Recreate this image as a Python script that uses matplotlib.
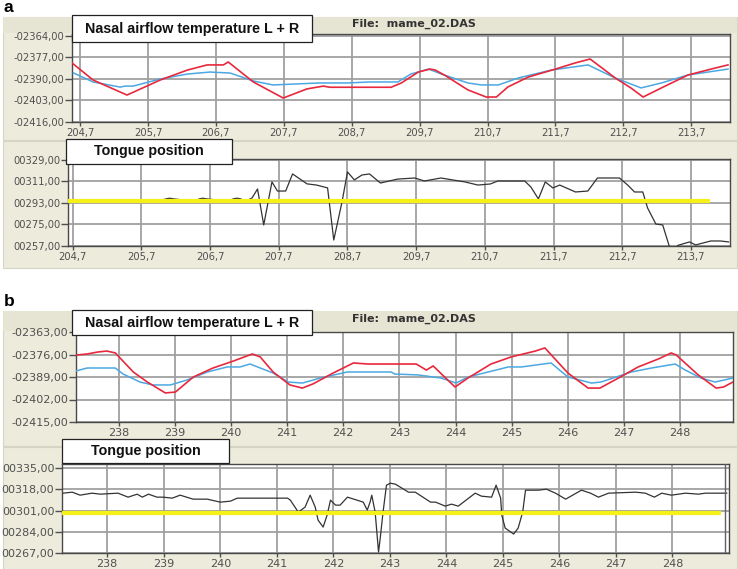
import matplotlib
matplotlib.use('Agg')
import matplotlib.pyplot as plt
from matplotlib.patches import Rectangle

W, H = 738, 569

# ---------------- data ----------------
# Panel a, nasal airflow (L = red, R = blue)
a_red_x = [204.58, 204.89, 205.39, 205.88, 206.28, 206.57, 206.81, 206.88, 207.25, 207.69, 208.04, 208.28,
           208.38, 208.97, 209.28, 209.43, 209.68, 209.85, 209.93, 210.08, 210.41, 210.68, 210.83, 211.00,
           211.30, 211.70, 211.99, 212.21, 212.58, 212.81, 212.99, 213.26, 213.65, 214.05, 214.24]
a_red_y = [-2380.3, -2390.6, -2399.7, -2390.6, -2384.6, -2381.5, -2381.5, -2379.7, -2391.8, -2401.5, -2396.0,
           -2394.3, -2395.0, -2395.0, -2395.0, -2392.4, -2385.8, -2384.0, -2384.6, -2388.0, -2396.6, -2400.9,
           -2400.9, -2394.8, -2388.8, -2384.0, -2380.3, -2377.9, -2389.4, -2395.4, -2400.9, -2395.4, -2387.6,
           -2383.4, -2381.5]
a_blue_x = [204.60, 204.89, 205.29, 205.36, 205.48, 205.88, 206.28, 206.61, 206.91, 207.25, 207.54, 208.23,
            208.63, 208.97, 209.38, 209.57, 209.83, 210.02, 210.41, 210.61, 210.86, 211.15, 211.64, 212.18,
            212.58, 212.96, 213.26, 213.65, 214.24]
a_blue_y = [-2386.3, -2391.8, -2394.9, -2394.3, -2394.3, -2390.0, -2387.0, -2385.8, -2386.4, -2391.2, -2393.6,
            -2392.4, -2392.4, -2391.8, -2391.8, -2387.0, -2384.0, -2387.0, -2392.4, -2393.6, -2393.6, -2389.4,
            -2384.6, -2381.5, -2389.4, -2395.4, -2392.4, -2387.6, -2384.0]
# Panel a, tongue position
a_tong_x = [204.63, 205.95, 206.06, 206.11, 206.16, 206.45, 206.55, 206.59, 206.64, 206.95, 207.04, 207.09,
            207.14, 207.22, 207.31, 207.39, 207.48, 207.60, 207.68, 207.80, 207.90, 208.11, 208.25, 208.41,
            208.50, 208.62, 208.70, 208.80, 208.91, 209.02, 209.18, 209.43, 209.68, 209.82, 210.06, 210.41,
            210.60, 210.78, 210.89, 211.28, 211.37, 211.48, 211.58, 211.69, 211.79, 212.02, 212.20, 212.34,
            212.66, 212.78, 212.88, 213.00, 213.07, 213.19, 213.29, 213.39, 213.45, 213.51, 213.68, 213.77,
            213.99, 214.13, 214.25]
a_tong_y = [294.5, 294.5, 296.5, 297.0, 296.5, 294.5, 296.5, 297.0, 296.5, 294.5, 296.5, 297.0,
            296.5, 294.5, 297.2, 304.7, 274.6, 310.6, 303.0, 303.0, 317.3, 309.0, 308.0, 305.6,
            262.0, 293.8, 319.0, 312.3, 316.4, 317.3, 309.7, 313.0, 313.9, 311.4, 313.9, 310.6,
            308.0, 308.9, 311.4, 311.4, 306.4, 296.4, 310.6, 305.6, 308.0, 302.2, 303.0, 313.9,
            313.9, 308.0, 302.2, 302.2, 288.8, 275.4, 274.6, 256.0, 252.0, 257.5, 260.4, 257.9,
            261.2, 261.2, 260.4]
a_thresh = 294.5
a_xticks = [204.7, 205.7, 206.7, 207.7, 208.7, 209.7, 210.7, 211.7, 212.7, 213.7]
a_xlabels = ['204,7', '205,7', '206,7', '207,7', '208,7', '209,7', '210,7', '211,7', '212,7', '213,7']
a_top_yticks = [-2416, -2403, -2390, -2377, -2364]
a_top_ylabels = ['-02416,00', '-02403,00', '-02390,00', '-02377,00', '-02364,00']
a_bot_yticks = [257, 275, 293, 311, 329]
a_bot_ylabels = ['00257,00', '00275,00', '00293,00', '00311,00', '00329,00']

# Panel b, nasal airflow
b_red_x = [237.24, 237.44, 237.62, 237.79, 237.94, 238.26, 238.51, 238.83, 239.01, 239.33, 239.68, 240.04,
           240.38, 240.52, 240.75, 241.05, 241.27, 241.46, 241.82, 242.18, 242.44, 243.30, 243.48, 243.60,
           243.99, 244.22, 244.63, 244.99, 245.42, 245.59, 246.00, 246.36, 246.57, 246.90, 247.25, 247.61,
           247.84, 247.93, 248.32, 248.64, 248.77, 248.94]
b_red_y = [-2376.3, -2375.7, -2374.6, -2374.0, -2375.1, -2386.1, -2391.9, -2398.2, -2397.7, -2389.0, -2383.8,
           -2379.8, -2375.7, -2377.4, -2386.1, -2393.6, -2395.4, -2393.0, -2386.7, -2380.9, -2381.5, -2381.5,
           -2385.0, -2382.6, -2394.8, -2389.6, -2381.5, -2377.4, -2374.0, -2372.2, -2386.7, -2395.4, -2395.4,
           -2389.6, -2383.2, -2378.6, -2375.1, -2376.3, -2387.8, -2395.4, -2394.8, -2391.9]
b_blue_x = [237.24, 237.44, 237.94, 238.08, 238.38, 238.61, 238.92, 239.22, 239.58, 239.93, 240.16, 240.34,
            240.75, 241.02, 241.27, 241.59, 242.07, 242.85, 242.92, 243.33, 243.74, 244.01, 244.22, 244.58,
            244.94, 245.17, 245.70, 246.00, 246.42, 246.59, 247.13, 247.49, 247.91, 248.09, 248.37, 248.62,
            248.94]
b_blue_y = [-2385.5, -2383.8, -2383.8, -2387.3, -2391.9, -2393.6, -2393.6, -2390.7, -2386.1, -2383.2, -2383.2,
            -2381.5, -2386.7, -2391.9, -2392.5, -2389.6, -2386.1, -2386.1, -2387.3, -2387.8, -2389.6, -2392.5,
            -2389.0, -2386.1, -2383.2, -2383.2, -2380.9, -2389.0, -2392.5, -2391.9, -2386.1, -2383.8, -2381.5,
            -2385.0, -2389.6, -2391.9, -2389.6]
# Panel b, tongue position
b_tong_x = [237.22, 237.38, 237.52, 237.73, 237.88, 238.19, 238.37, 238.53, 238.62, 238.73, 238.88, 238.99,
            239.15, 239.29, 239.52, 239.77, 240.00, 240.18, 240.30, 240.71, 241.19, 241.24, 241.38, 241.50,
            241.59, 241.68, 241.73, 241.82, 241.89, 241.95, 242.04, 242.12, 242.25, 242.53, 242.60, 242.65,
            242.68, 242.74, 242.80, 242.83, 242.88, 242.94, 243.01, 243.10, 243.33, 243.45, 243.72, 243.81,
            243.98, 244.09, 244.21, 244.51, 244.62, 244.80, 244.88, 244.96, 244.98, 245.04, 245.19, 245.27,
            245.35, 245.40, 245.63, 245.77, 245.93, 246.11, 246.39, 246.55, 246.69, 246.87, 247.35, 247.52,
            247.68, 247.81, 247.98, 248.23, 248.46, 248.58, 248.96]
b_tong_y = [315.0, 315.8, 313.4, 315.0, 314.2, 315.0, 311.8, 314.2, 311.8, 314.2, 311.8, 311.8,
            311.0, 313.4, 310.2, 310.2, 307.8, 308.6, 311.0, 311.0, 311.0, 309.4, 299.8, 303.8,
            313.4, 303.8, 293.4, 287.8, 297.4, 309.4, 305.4, 305.4, 311.8, 307.8, 301.4, 307.8,
            313.4, 299.8, 267.8, 279.0, 299.8, 321.4, 323.0, 322.2, 315.8, 315.8, 307.8, 307.8,
            304.6, 306.2, 304.6, 315.0, 312.6, 311.8, 321.4, 311.0, 297.4, 287.0, 282.2, 287.0,
            299.8, 317.4, 317.4, 318.2, 315.0, 310.2, 317.4, 315.0, 311.8, 315.0, 315.8, 315.0,
            311.8, 315.0, 313.4, 315.0, 314.2, 315.0, 315.0]
b_thresh = 298.8
b_xticks = [238, 239, 240, 241, 242, 243, 244, 245, 246, 247, 248]
b_xlabels = ['238', '239', '240', '241', '242', '243', '244', '245', '246', '247', '248']
b_top_yticks = [-2415, -2402, -2389, -2376, -2363]
b_top_ylabels = ['-02415,00', '-02402,00', '-02389,00', '-02376,00', '-02363,00']
b_bot_yticks = [267, 284, 301, 318, 335]
b_bot_ylabels = ['00267,00', '00284,00', '00301,00', '00318,00', '00335,00']

# ---------------- figure ----------------
fig = plt.figure(figsize=(W / 100, H / 100), dpi=100)
fig.patch.set_facecolor('white')

BEIGE = '#EDEBDC'
HEAD = '#E6E4D2'
RED = '#E8283C'
BLUE = '#4BA8E2'
YEL = '#F4F018'


def frect(x0, y0, x1, y1, **kw):
    r = Rectangle((x0 / W, 1 - y1 / H), (x1 - x0) / W, (y1 - y0) / H,
                  transform=fig.transFigure, **kw)
    fig.add_artist(r)
    return r


def add_ax(l, t, r, b):
    return fig.add_axes([l / W, 1 - b / H, (r - l) / W, (b - t) / H])


def style(ax, xlim, ylim, xt, xl, yt, yl, fs):
    ax.set_facecolor('white')
    ax.set_xlim(*xlim)
    ax.set_ylim(*ylim)
    ax.set_xticks(xt)
    ax.set_xticklabels(xl)
    ax.set_yticks(yt)
    ax.set_yticklabels(yl)
    ax.grid(True, color='#a0a0a0', lw=1.3, zorder=0)
    ax.set_axisbelow(True)
    for s in ax.spines.values():
        s.set_color('#484848')
        s.set_linewidth(1.0)
    ax.tick_params(axis='y', direction='out', length=5, width=1, color='#505050',
                   labelsize=fs, labelcolor='#505050', pad=0.5)
    ax.tick_params(axis='x', direction='out', length=3, width=1, color='#505050',
                   labelsize=fs, labelcolor='#505050', pad=1)


def title_box(x0, y0, x1, y1, text):
    frect(x0, y0, x1, y1, facecolor='white', edgecolor='#222222', lw=0.9, zorder=5)
    fig.text((x0 + x1) / 2 / W, 1 - (y0 + y1) / 2 / H, text, ha='center', va='center',
             fontsize=10.3, fontweight='bold', family='Liberation Sans', color='#111111', zorder=6)


# background frames
frect(3, 17, 737, 140, facecolor=BEIGE, edgecolor='#d6d4c2', lw=0.8, zorder=-2)
frect(3, 17, 737, 33, facecolor=HEAD, edgecolor='none', zorder=-1)
frect(3, 141, 737, 268, facecolor=BEIGE, edgecolor='#d6d4c2', lw=0.8, zorder=-2)
frect(3, 311, 737, 446, facecolor=BEIGE, edgecolor='#d6d4c2', lw=0.8, zorder=-2)
frect(3, 311, 737, 331, facecolor=HEAD, edgecolor='none', zorder=-1)
frect(3, 447, 737, 569, facecolor=BEIGE, edgecolor='#d6d4c2', lw=0.8, zorder=-2)

# panel a top
ax1 = add_ax(72, 34, 730, 122)
style(ax1, (204.58, 214.27), (-2416, -2362.8), a_xticks, a_xlabels, a_top_yticks, a_top_ylabels, 7.2)
ax1.plot(a_blue_x, a_blue_y, color=BLUE, lw=1.1, zorder=3)
ax1.plot(a_red_x, a_red_y, color=RED, lw=1.2, zorder=4)

# panel a bottom
ax2 = add_ax(68, 159, 730, 246)
style(ax2, (204.63, 214.27), (257, 329.8), a_xticks, a_xlabels, a_bot_yticks, a_bot_ylabels, 7.2)
ax2.plot(a_tong_x, a_tong_y, color='#333333', lw=0.9, zorder=3)
ax2.plot([204.63, 213.98], [a_thresh, a_thresh], color=YEL, lw=3.0, zorder=4, solid_capstyle='butt')

# panel b top
ax3 = add_ax(76, 332, 733, 422)
style(ax3, (237.24, 248.94), (-2415, -2363), b_xticks, b_xlabels, b_top_yticks, b_top_ylabels, 8)
ax3.plot(b_blue_x, b_blue_y, color=BLUE, lw=1.1, zorder=3)
ax3.plot(b_red_x, b_red_y, color=RED, lw=1.2, zorder=4)

# panel b bottom
ax4 = add_ax(62, 464, 729, 553)
style(ax4, (237.2, 249.0), (267, 338.4), b_xticks, b_xlabels, b_bot_yticks, b_bot_ylabels, 8)
ax4.plot(b_tong_x, b_tong_y, color='#333333', lw=0.9, zorder=3)
ax4.plot([237.2, 248.85], [b_thresh, b_thresh], color=YEL, lw=3.0, zorder=4, solid_capstyle='butt')
ax4.axvline(248.93, color='#606060', lw=1.0, zorder=5)

# title boxes
title_box(72, 15, 312, 42, 'Nasal airflow temperature L + R')
title_box(66, 139, 232, 164, 'Tongue position')
title_box(72, 310, 312, 335, 'Nasal airflow temperature L + R')
title_box(62, 439, 229, 463, 'Tongue position')

# file labels
fig.text(352 / W, 1 - 24 / H, 'File:  mame_02.DAS', fontsize=8, fontweight='bold',
         color='#333333', va='center', ha='left')
fig.text(352 / W, 1 - 319 / H, 'File:  mame_02.DAS', fontsize=8, fontweight='bold',
         color='#333333', va='center', ha='left')

# panel letters
fig.text(4 / W, 1 - 7 / H, 'a', fontsize=12.5, fontweight='bold', family='Liberation Sans',
         va='center', ha='left')
fig.text(4 / W, 1 - 301 / H, 'b', fontsize=12.5, fontweight='bold', family='Liberation Sans',
         va='center', ha='left')

fig.savefig('out.png', dpi=100)
